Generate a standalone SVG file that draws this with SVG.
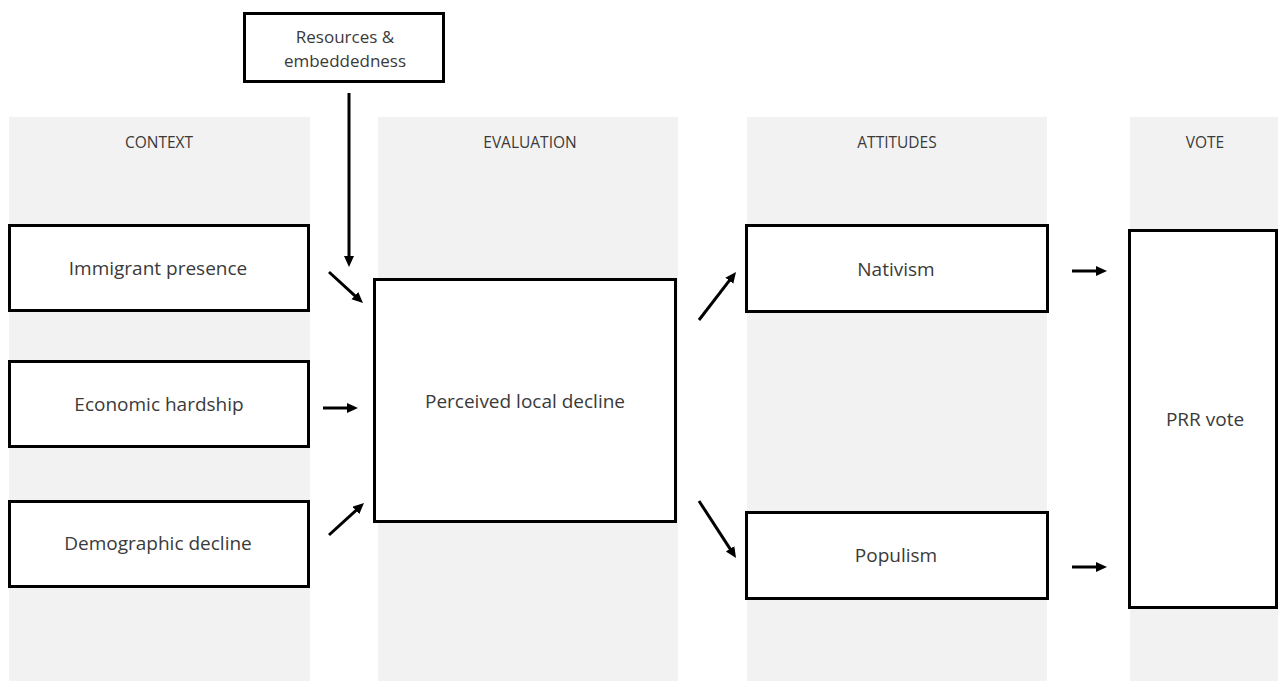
<svg xmlns="http://www.w3.org/2000/svg" width="1278" height="681" viewBox="0 0 1278 681">
<style>
.col{fill:#f2f2f2}
.box{fill:#ffffff;stroke:#000000;stroke-width:3}
.hdr{font-family:"Open Sans","Liberation Sans",sans-serif;font-size:15.5px;fill:#3a3a3a;text-anchor:middle;dominant-baseline:central}
.lbl{font-family:"Open Sans","Liberation Sans",sans-serif;font-size:19px;fill:#3a3a3a;text-anchor:middle;dominant-baseline:central}
.sm{font-size:17px}
.arr{stroke:#000000;stroke-width:3;fill:none;marker-end:url(#ah)}
</style>
<defs>
<marker id="ah" markerUnits="userSpaceOnUse" markerWidth="12" markerHeight="12" refX="1" refY="5" orient="auto">
<path d="M0,0 L11,5 L0,10 z" fill="#000000"/>
</marker>
</defs>
<rect width="1278" height="681" fill="#ffffff"/>
<g id="columns">
<rect class="col" x="9" y="117" width="301" height="564"/>
<rect class="col" x="378" y="117" width="300" height="564"/>
<rect class="col" x="747" y="117" width="300" height="564"/>
<rect class="col" x="1130" y="117" width="148" height="564"/>
<text class="hdr" x="159" y="142">CONTEXT</text>
<text class="hdr" x="530" y="142">EVALUATION</text>
<text class="hdr" x="897" y="142">ATTITUDES</text>
<text class="hdr" x="1205" y="142">VOTE</text>
</g>
<g id="connectors">
<line class="arr" x1="349" y1="93" x2="349" y2="257"/>
<line class="arr" x1="329" y1="272" x2="355.6" y2="296.3"/>
<line class="arr" x1="323" y1="408" x2="348" y2="408"/>
<line class="arr" x1="329" y1="535" x2="356.6" y2="509.8"/>
<line class="arr" x1="699" y1="320" x2="729.9" y2="279.9"/>
<line class="arr" x1="699" y1="501" x2="730.6" y2="549.6"/>
<line class="arr" x1="1072" y1="271" x2="1097" y2="271"/>
<line class="arr" x1="1072" y1="567" x2="1097" y2="567"/>
</g>
<g id="resources">
<rect class="box" x="244.5" y="13.5" width="199" height="68"/>
<text class="lbl sm" x="345" y="36">Resources &amp;</text>
<text class="lbl sm" x="345" y="60">embeddedness</text>
</g>
<g id="immigrant">
<rect class="box" x="9.5" y="225.5" width="299" height="85"/>
<text class="lbl" x="158" y="268">Immigrant presence</text>
</g>
<g id="economic">
<rect class="box" x="9.5" y="361.5" width="299" height="85"/>
<text class="lbl" x="159" y="404">Economic hardship</text>
</g>
<g id="demographic">
<rect class="box" x="9.5" y="501.5" width="299" height="85"/>
<text class="lbl" x="158" y="543">Demographic decline</text>
</g>
<g id="perceived">
<rect class="box" x="374.5" y="279.5" width="301" height="242"/>
<text class="lbl" x="525" y="401">Perceived local decline</text>
</g>
<g id="nativism">
<rect class="box" x="746.5" y="225.5" width="301" height="86"/>
<text class="lbl" x="896" y="269">Nativism</text>
</g>
<g id="populism">
<rect class="box" x="746.5" y="512.5" width="301" height="86"/>
<text class="lbl" x="896" y="555">Populism</text>
</g>
<g id="prr">
<rect class="box" x="1129.5" y="230.5" width="147" height="377"/>
<text class="lbl" x="1205" y="419">PRR vote</text>
</g>
</svg>
